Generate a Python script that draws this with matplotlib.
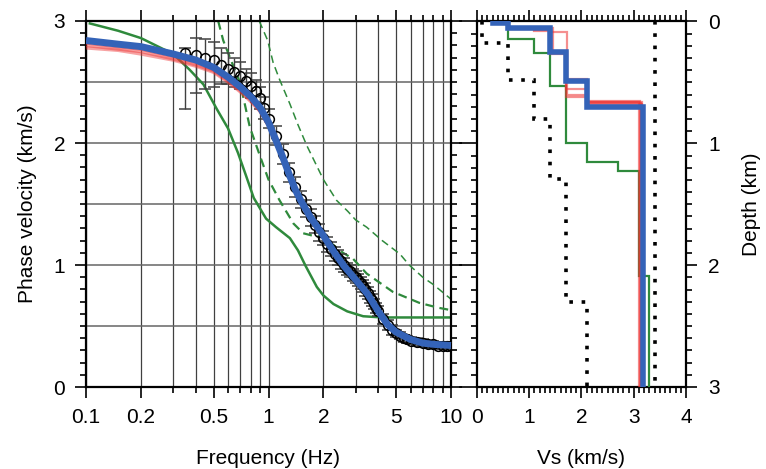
import matplotlib.pyplot as plt
from matplotlib.ticker import FixedLocator, MultipleLocator, NullFormatter

plt.rcParams['font.family'] = ['Liberation Sans', 'DejaVu Sans']
plt.rcParams['font.size'] = 15

# observed phase velocities (Hz, km/s) with lower / upper errors
obs_f = [0.35, 0.40, 0.45, 0.50, 0.55, 0.60, 0.65, 0.70, 0.75, 0.80, 0.85, 0.90, 0.95, 1.0,
         1.1, 1.2, 1.3, 1.4, 1.5, 1.6, 1.7, 1.8, 1.9, 2.0,
         2.1, 2.2, 2.3, 2.4, 2.5, 2.6, 2.7, 2.8, 2.9, 3.0, 3.1, 3.2, 3.3, 3.4, 3.5,
         3.6, 3.7, 3.8, 3.9, 4.0,
         4.25, 4.5, 4.75, 5.0, 5.25, 5.5, 5.75, 6.0, 6.5, 7.0, 7.5, 8.0, 8.5, 9.0, 9.5, 10.0]
obs_v = [2.74, 2.72, 2.70, 2.68, 2.64, 2.61, 2.58, 2.55, 2.51, 2.47, 2.43, 2.37, 2.29, 2.20,
         2.06, 1.91, 1.76, 1.64, 1.54, 1.46, 1.39, 1.33, 1.27, 1.22,
         1.17, 1.13, 1.09, 1.06, 1.03, 1.00, 0.97, 0.95, 0.92, 0.90, 0.88, 0.85, 0.83, 0.80, 0.77,
         0.74, 0.71, 0.68, 0.65, 0.62,
         0.56, 0.51, 0.47, 0.44, 0.42, 0.40, 0.39, 0.38, 0.37, 0.36, 0.35, 0.35, 0.34, 0.34, 0.34, 0.34]
obs_lo = [0.46, 0.31, 0.26, 0.22, 0.16, 0.13, 0.12, 0.11, 0.10, 0.10, 0.09, 0.09, 0.09, 0.08,
          0.08, 0.08, 0.08, 0.08, 0.07, 0.07, 0.07, 0.07, 0.07, 0.06,
          0.06, 0.06, 0.06, 0.06, 0.06, 0.06, 0.05, 0.05, 0.05, 0.05, 0.05, 0.05, 0.05, 0.05, 0.05,
          0.05, 0.05, 0.04, 0.04, 0.04,
          0.04, 0.04, 0.04, 0.03, 0.03, 0.03, 0.03, 0.03, 0.03, 0.03, 0.03, 0.03, 0.03, 0.03, 0.03, 0.03]
obs_hi = [0.04, 0.14, 0.15, 0.15, 0.14, 0.13, 0.12, 0.11, 0.10, 0.10, 0.09, 0.09, 0.09, 0.08,
          0.08, 0.08, 0.08, 0.08, 0.07, 0.07, 0.07, 0.07, 0.07, 0.06,
          0.06, 0.06, 0.06, 0.06, 0.06, 0.06, 0.05, 0.05, 0.05, 0.05, 0.05, 0.05, 0.05, 0.05, 0.05,
          0.05, 0.05, 0.04, 0.04, 0.04,
          0.04, 0.04, 0.04, 0.03, 0.03, 0.03, 0.03, 0.03, 0.03, 0.03, 0.03, 0.03, 0.03, 0.03, 0.03, 0.03]

# best model dispersion curve
best_f = [0.1, 0.15, 0.2, 0.3, 0.4, 0.5, 0.6, 0.7, 0.8, 0.9, 1.0, 1.1, 1.2, 1.3, 1.4, 1.5,
          1.7, 2.0, 2.3, 2.6, 3.0, 3.5, 4.0, 4.5, 5.0, 6.0, 7.0, 8.0, 10.0]
best_v = [2.84, 2.81, 2.79, 2.73, 2.68, 2.62, 2.54, 2.46, 2.38, 2.29, 2.17, 2.02, 1.88, 1.74, 1.62, 1.53,
          1.39, 1.24, 1.10, 0.99, 0.88, 0.76, 0.62, 0.51, 0.45, 0.39, 0.36, 0.35, 0.34]

# other accepted models (red)
red_v = [
    [2.82, 2.79, 2.77, 2.71, 2.66, 2.60, 2.52, 2.44, 2.36, 2.27, 2.15, 2.01, 1.87, 1.73, 1.61, 1.52,
     1.38, 1.23, 1.10, 0.99, 0.88, 0.76, 0.62, 0.51, 0.45, 0.39, 0.36, 0.35, 0.34],
    [2.80, 2.77, 2.75, 2.69, 2.64, 2.59, 2.51, 2.43, 2.35, 2.26, 2.15, 2.00, 1.86, 1.72, 1.60, 1.51,
     1.37, 1.22, 1.09, 0.98, 0.87, 0.76, 0.62, 0.51, 0.45, 0.39, 0.36, 0.35, 0.34],
    [2.78, 2.76, 2.73, 2.68, 2.63, 2.58, 2.50, 2.42, 2.34, 2.26, 2.14, 2.00, 1.86, 1.72, 1.61, 1.52,
     1.38, 1.23, 1.10, 0.99, 0.88, 0.76, 0.62, 0.51, 0.45, 0.39, 0.36, 0.35, 0.34],
]

# initial / reference models (green)
g1_f = [0.105, 0.15, 0.2, 0.3, 0.37, 0.44, 0.52, 0.6, 0.68, 0.75, 0.83, 0.97, 1.1, 1.31, 1.45,
        1.6, 1.84, 2.0, 2.27, 2.7, 3.3, 4.2, 5.3, 10.0]
g1_v = [2.98, 2.92, 2.86, 2.73, 2.60, 2.48, 2.28, 2.12, 1.92, 1.74, 1.55, 1.38, 1.31, 1.22, 1.12,
        0.99, 0.82, 0.75, 0.68, 0.62, 0.58, 0.57, 0.57, 0.57]
g2_f = [0.53, 0.565, 0.63, 0.70, 0.79, 0.90, 1.0, 1.15, 1.37, 1.55, 1.75, 2.0, 2.56, 2.91, 3.45,
        4.8, 6.7, 8.5, 10.0]
g2_v = [3.0, 2.84, 2.66, 2.49, 2.13, 1.89, 1.70, 1.53, 1.34, 1.26, 1.24, 1.23, 1.10, 1.05, 0.93,
        0.78, 0.69, 0.65, 0.63]
g3_f = [0.89, 0.99, 1.06, 1.15, 1.31, 1.45, 1.62, 2.0, 2.36, 2.72, 3.0, 3.45, 4.2, 5.25, 5.9,
        7.0, 8.0, 10.0]
g3_v = [3.0, 2.84, 2.66, 2.52, 2.32, 2.15, 1.98, 1.70, 1.53, 1.44, 1.37, 1.31, 1.20, 1.09, 1.00,
        0.90, 0.84, 0.72]

# Vs profiles: layer velocities and layer top depths (km)
best_vs = [0.3, 0.6, 1.4, 1.7, 2.1, 3.17]
best_top = [0.0, 0.01, 0.05, 0.25, 0.49, 0.70]
red_vs = [
    [0.3, 0.6, 1.1, 1.4, 1.7, 2.1, 3.10],
    [0.3, 0.6, 1.4, 1.72, 2.1, 3.12],
    [0.3, 0.6, 1.4, 1.7, 2.08, 3.14],
    [0.3, 0.6, 1.1, 1.4, 1.72, 2.1, 3.15],
    [0.3, 0.6, 1.4, 1.7, 2.1, 3.13],
    [0.3, 0.6, 1.45, 1.72, 2.12, 3.16],
]
red_top = [
    [0.0, 0.01, 0.05, 0.08, 0.26, 0.50, 0.66],
    [0.0, 0.01, 0.06, 0.09, 0.47, 0.65],
    [0.0, 0.01, 0.05, 0.27, 0.55, 0.67],
    [0.0, 0.01, 0.06, 0.07, 0.25, 0.60, 0.68],
    [0.0, 0.01, 0.05, 0.24, 0.62, 0.69],
    [0.0, 0.01, 0.05, 0.25, 0.49, 0.66],
]
green_vs = [0.6, 1.1, 1.4, 1.7, 2.1, 2.7, 3.1, 3.3]
green_top = [0.0, 0.145, 0.26, 0.53, 1.0, 1.15, 1.23, 2.09]
low_vs = [0.1, 0.6, 1.1, 1.4, 1.7, 2.1]
low_top = [0.0, 0.18, 0.48, 0.80, 1.29, 2.30]
high_vs = [3.4]
high_top = [0.0]
max_depth = 3.0

freq_ticks = [0.1, 0.2, 0.5, 1, 2, 5, 10]
freq_labels = ['0.1', '0.2', '0.5', '1', '2', '5', '10']
freq_minor = [0.3, 0.4, 0.6, 0.7, 0.8, 0.9, 3, 4, 6, 7, 8, 9]

BLUE = '#3463b8'
RED = '#ee3333'
GREEN = '#2f8a3c'

fig = plt.figure(figsize=(7.66, 4.69), dpi=100)
ax = fig.add_axes([86 / 766, 1 - 387 / 469, 365 / 766, 366 / 469])
ax2 = fig.add_axes([477 / 766, 1 - 387 / 469, 209 / 766, 365.5 / 469])

# ---- dispersion panel ----
ax.set_xscale('log')
ax.set_xlim(0.1, 10)
ax.set_ylim(0, 3)
ax.xaxis.set_major_locator(FixedLocator(freq_ticks))
ax.set_xticklabels(freq_labels)
ax.xaxis.set_minor_locator(FixedLocator(freq_minor))
ax.xaxis.set_minor_formatter(NullFormatter())
ax.yaxis.set_major_locator(MultipleLocator(1))
ax.yaxis.set_minor_locator(MultipleLocator(0.1))

for f in freq_ticks + freq_minor:
    ax.axvline(f, color='0.25', lw=0.9, zorder=0)
for v in [0.5, 1, 1.5, 2, 2.5]:
    ax.axhline(v, color='0.4', lw=1.1, zorder=0)

ax.plot(g1_f, g1_v, color=GREEN, lw=1.8, zorder=2)
ax.plot(g2_f, g2_v, color=GREEN, lw=1.6, ls=(0, (4, 2.5)), zorder=2)
ax.plot(g3_f, g3_v, color=GREEN, lw=1.1, ls=(0, (5, 3)), zorder=2)

ax.errorbar(obs_f, obs_v, yerr=[obs_lo, obs_hi], fmt='o', ms=7, mfc='none', mec='k', mew=1.1,
            ecolor='0.25', elinewidth=1, capsize=4.5, capthick=1, zorder=3)

for rv in red_v:
    ax.plot(best_f, rv, color=RED, lw=2.5, alpha=0.45, zorder=4)
ax.plot(best_f, best_v, color=BLUE, lw=5, zorder=5, solid_capstyle='butt')

ax.tick_params(which='both', direction='out', top=True, right=True, width=1.2)
ax.tick_params(which='major', length=8)
ax.tick_params(which='minor', length=4.5)
ax.tick_params(axis='x', pad=7)
ax.tick_params(axis='y', pad=7)
for s in ax.spines.values():
    s.set_linewidth(1.6)
ax.set_xlabel('Frequency (Hz)', labelpad=16)
ax.set_ylabel('Phase velocity (km/s)', labelpad=12)

# ---- Vs profile panel ----
ax2.set_xlim(0, 4)
ax2.set_ylim(max_depth, 0)
ax2.stairs(low_vs, low_top + [max_depth], orientation='horizontal', baseline=None,
           color='k', lw=2.6, ls=(0, (1, 2.4)), zorder=2)
ax2.stairs(high_vs, high_top + [max_depth], orientation='horizontal', baseline=None,
           color='k', lw=2.6, ls=(0, (1, 2.4)), zorder=2)
ax2.stairs(green_vs, green_top + [max_depth], orientation='horizontal', baseline=None,
           color=GREEN, lw=1.6, zorder=3)
for vs, top in zip(red_vs, red_top):
    ax2.stairs(vs, top + [max_depth], orientation='horizontal', baseline=None,
               color=RED, lw=1.6, alpha=0.55, zorder=4)
ax2.stairs(best_vs, best_top + [max_depth], orientation='horizontal', baseline=None,
           color=BLUE, lw=4, zorder=5)

ax2.xaxis.set_major_locator(MultipleLocator(1))
ax2.xaxis.set_minor_locator(MultipleLocator(0.1))
ax2.yaxis.set_major_locator(MultipleLocator(1))
ax2.yaxis.set_minor_locator(MultipleLocator(0.1))
ax2.tick_params(which='both', direction='out', top=True, right=True, left=True,
                labelleft=False, labelright=True, width=1.2)
ax2.tick_params(which='major', length=8)
ax2.tick_params(which='minor', length=4.5)
ax2.tick_params(axis='y', which='major', left=False)
ax2.tick_params(axis='x', pad=7)
ax2.tick_params(axis='y', pad=8)
for d in [0, 1, 2, 3]:
    ax2.plot([-0.33, 0], [d, d], color='k', lw=1.2, clip_on=False, zorder=6)
for s in ax2.spines.values():
    s.set_linewidth(1.6)
ax2.set_xlabel('Vs (km/s)', labelpad=16)
ax2.yaxis.set_label_position('right')
ax2.set_ylabel('Depth (km)', labelpad=16)

fig.savefig('out.png', dpi=100)
